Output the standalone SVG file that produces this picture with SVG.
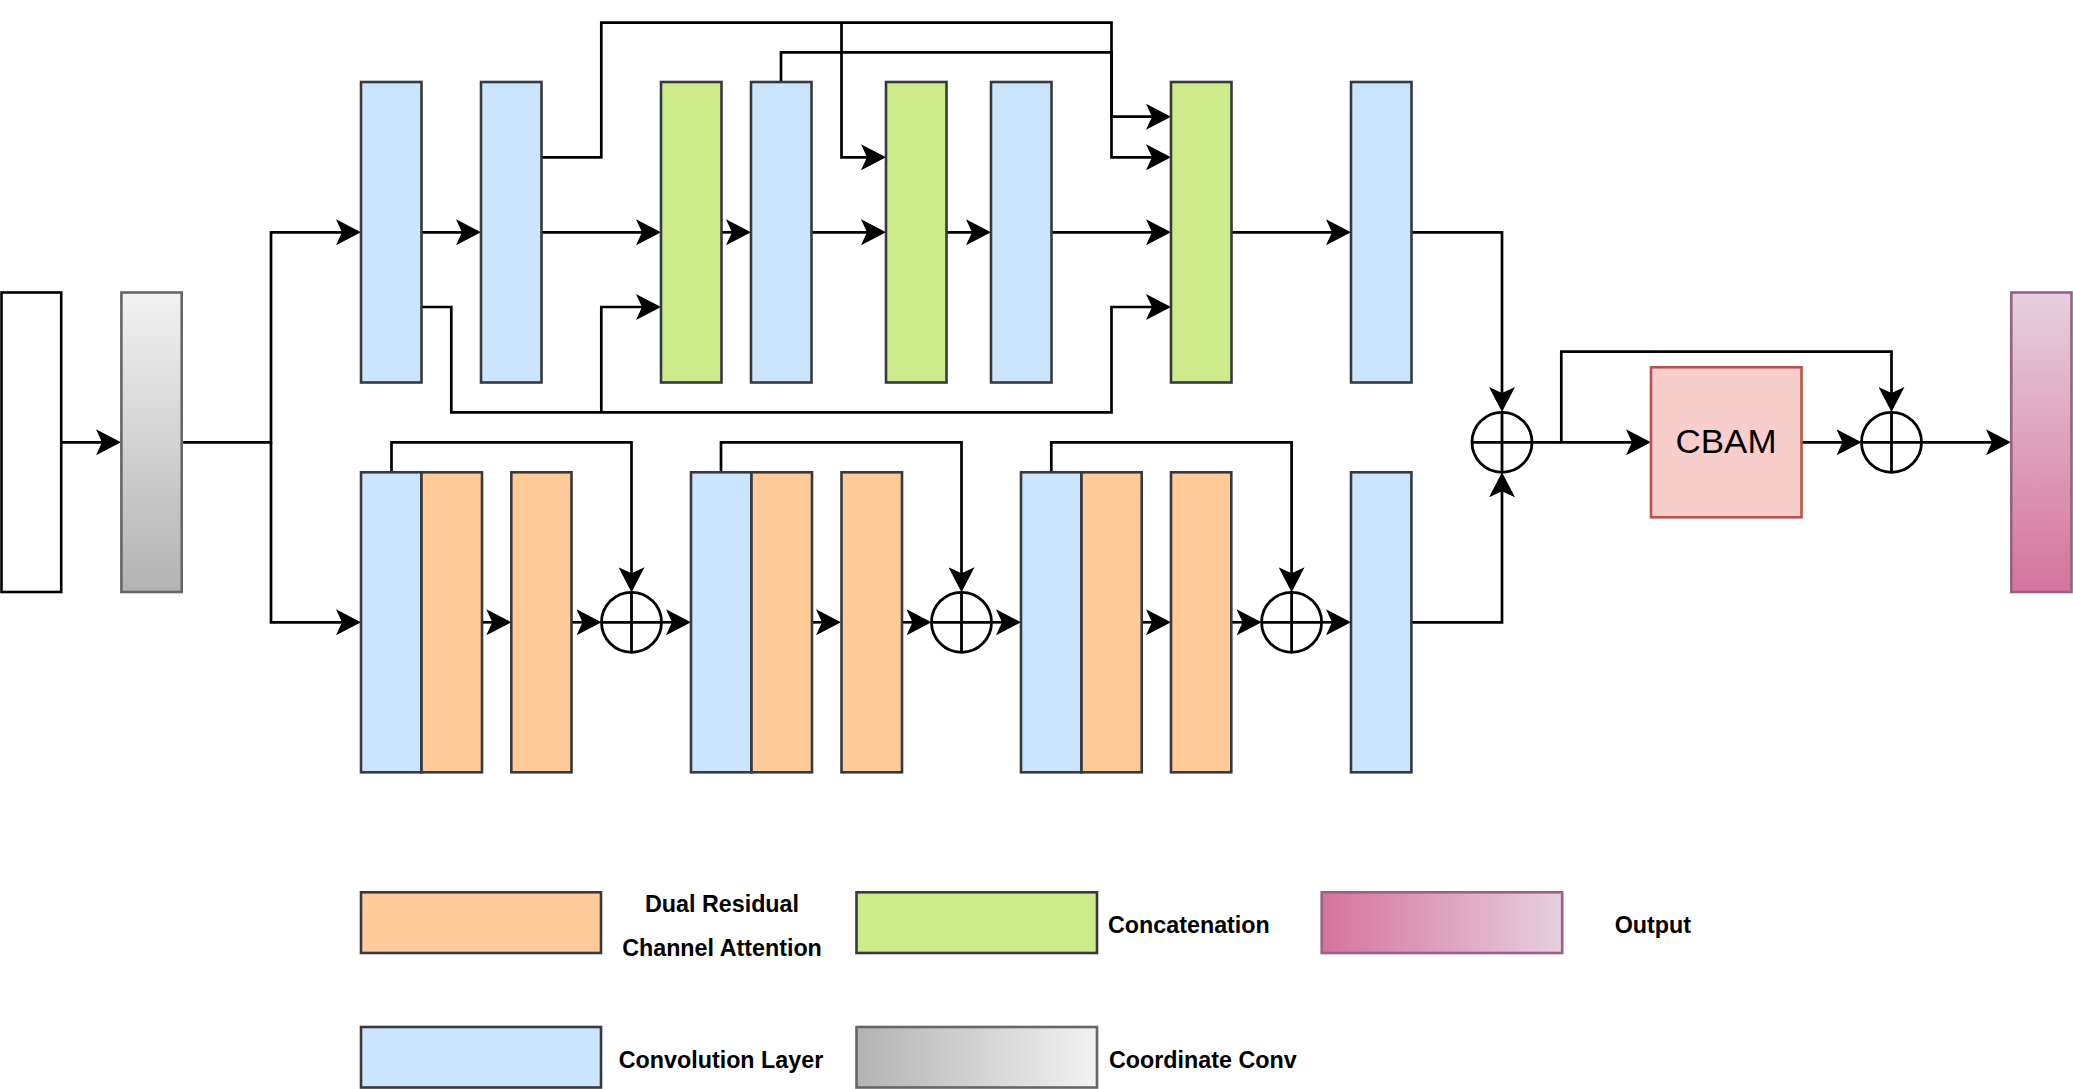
<svg xmlns="http://www.w3.org/2000/svg" width="2073" height="1089" viewBox="0 0 2073 1089">
<style>
.conv{fill:#cce5ff;stroke:#36393d;stroke-width:2.6}
.dra{fill:#ffcc99;stroke:#36393d;stroke-width:2.6}
.cat{fill:#cdeb8b;stroke:#36393d;stroke-width:2.6}
.plus{fill:#ffffff;stroke:#000000;stroke-width:2.8}
.cross{fill:none;stroke:#000000;stroke-width:2.8}
.edge{fill:none;stroke:#000000;stroke-width:2.7;stroke-linejoin:miter}
.arr{marker-end:url(#ah)}
.lg{font-family:"Liberation Sans",Arial,sans-serif;font-weight:bold;font-size:23.3px;fill:#000000}
</style>
<defs>
<marker id="ah" markerUnits="userSpaceOnUse" viewBox="0 0 25 26" refX="15" refY="13" markerWidth="25" markerHeight="26" orient="auto">
<path d="M0,0 L25,13 L0,26 L6,13 Z" fill="#000000"/>
</marker>
<linearGradient id="gGrayV" x1="0" y1="0" x2="0" y2="1"><stop offset="0" stop-color="#f2f2f2"/><stop offset="1" stop-color="#b3b3b3"/></linearGradient>
<linearGradient id="gPinkV" x1="0" y1="0" x2="0" y2="1"><stop offset="0" stop-color="#e6d0de"/><stop offset="1" stop-color="#d5739d"/></linearGradient>
<linearGradient id="gPinkH" x1="0" y1="0" x2="1" y2="0"><stop offset="0" stop-color="#d5739d"/><stop offset="1" stop-color="#e6d0de"/></linearGradient>
<linearGradient id="gGrayH" x1="0" y1="0" x2="1" y2="0"><stop offset="0" stop-color="#b3b3b3"/><stop offset="1" stop-color="#f2f2f2"/></linearGradient>
</defs>
<rect width="2073" height="1089" fill="#ffffff"/>

<g id="connectors">
<path class="edge arr" d="M61,442.3 H111"/>
<path class="edge arr" d="M181.7,442.3 H271 V232.3 H351"/>
<path class="edge arr" d="M271,442.3 V622.3 H351"/>
<path class="edge arr" d="M421.5,232.3 H471"/>
<path class="edge arr" d="M541.5,232.3 H651"/>
<path class="edge arr" d="M721.5,232.3 H741"/>
<path class="edge arr" d="M811.5,232.3 H876"/>
<path class="edge arr" d="M946.5,232.3 H981"/>
<path class="edge arr" d="M1051.5,232.3 H1161"/>
<path class="edge arr" d="M1231.5,232.3 H1341"/>
<path class="edge arr" d="M1411.5,232.3 H1502 V402"/>
<path class="edge arr" d="M541.5,157.3 H601.3 V22.7 H1111.5 V157.3 H1161"/>
<path class="edge arr" d="M841.5,22.7 V157.3 H876"/>
<path class="edge arr" d="M781,82 V52.3 H1111.5 V116.7 H1161"/>
<path class="edge arr" d="M421.5,307 H451.3 V412.3 H1111.5 V307 H1161"/>
<path class="edge arr" d="M601.3,412.3 V307 H651"/>
<path class="edge arr" d="M482,622.3 H501.3"/>
<path class="edge arr" d="M571.5,622.3 H591.5"/>
<path class="edge arr" d="M391.5,472 V442.3 H631.5 V582.3"/>
<path class="edge arr" d="M661.5,622.3 H681"/>
<path class="edge arr" d="M812,622.3 H831"/>
<path class="edge arr" d="M902,622.3 H921.5"/>
<path class="edge arr" d="M721,472 V442.3 H961.5 V582.3"/>
<path class="edge arr" d="M991.5,622.3 H1011"/>
<path class="edge arr" d="M1141.7,622.3 H1161"/>
<path class="edge arr" d="M1231.3,622.3 H1251.6"/>
<path class="edge arr" d="M1051.3,472 V442.3 H1291.6 V582.3"/>
<path class="edge arr" d="M1321.6,622.3 H1341"/>
<path class="edge arr" d="M1411.4,622.3 H1502 V482.3"/>
<path class="edge arr" d="M1532,442.3 H1641"/>
<path class="edge arr" d="M1561.3,442.3 V351.7 H1891.5 V402"/>
<path class="edge arr" d="M1801.7,442.3 H1851.5"/>
<path class="edge arr" d="M1921.5,442.3 H2001"/>
</g>

<g id="input"><rect x="1.5" y="292.5" width="59.7" height="299.5" fill="#ffffff" stroke="#000000" stroke-width="2.6"/></g>
<g id="coordconv"><rect x="121.4" y="292.5" width="60.3" height="299.5" fill="url(#gGrayV)" stroke="#666666" stroke-width="2.6"/></g>

<g id="top-conv1"><rect class="conv" x="361" y="82" width="60.5" height="300.5"/></g>
<g id="top-conv2"><rect class="conv" x="481" y="82" width="60.5" height="300.5"/></g>
<g id="top-cat1"><rect class="cat" x="661" y="82" width="60.5" height="300.5"/></g>
<g id="top-conv3"><rect class="conv" x="751" y="82" width="60.5" height="300.5"/></g>
<g id="top-cat2"><rect class="cat" x="886" y="82" width="60.5" height="300.5"/></g>
<g id="top-conv4"><rect class="conv" x="991" y="82" width="60.5" height="300.5"/></g>
<g id="top-cat3"><rect class="cat" x="1171" y="82" width="60.5" height="300.5"/></g>
<g id="top-conv5"><rect class="conv" x="1351" y="82" width="60.5" height="300.5"/></g>

<g id="bot-block1">
<rect class="conv" x="361" y="472.3" width="60.5" height="300"/>
<rect class="dra" x="421.5" y="472.3" width="60.5" height="300"/>
</g>
<g id="bot-dra1"><rect class="dra" x="511.3" y="472.3" width="60.2" height="300"/></g>
<g id="bot-add1"><circle class="plus" cx="631.5" cy="622.3" r="30"/><path class="cross" d="M601.5,622.3 H661.5 M631.5,592.3 V652.3"/></g>

<g id="bot-block2">
<rect class="conv" x="691" y="472.3" width="60.5" height="300"/>
<rect class="dra" x="751.5" y="472.3" width="60.5" height="300"/>
</g>
<g id="bot-dra2"><rect class="dra" x="841.5" y="472.3" width="60.5" height="300"/></g>
<g id="bot-add2"><circle class="plus" cx="961.5" cy="622.3" r="30"/><path class="cross" d="M931.5,622.3 H991.5 M961.5,592.3 V652.3"/></g>

<g id="bot-block3">
<rect class="conv" x="1021" y="472.3" width="60.5" height="300"/>
<rect class="dra" x="1081.5" y="472.3" width="60.2" height="300"/>
</g>
<g id="bot-dra3"><rect class="dra" x="1171" y="472.3" width="60.3" height="300"/></g>
<g id="bot-add3"><circle class="plus" cx="1291.6" cy="622.3" r="30"/><path class="cross" d="M1261.6,622.3 H1321.6 M1291.6,592.3 V652.3"/></g>

<g id="bot-conv"><rect class="conv" x="1351" y="472.3" width="60.4" height="300"/></g>

<g id="merge-add"><circle class="plus" cx="1502" cy="442.3" r="30"/><path class="cross" d="M1472,442.3 H1532 M1502,412.3 V472.3"/></g>
<g id="cbam">
<rect x="1651" y="367.3" width="150.5" height="150" fill="#f8cecc" stroke="#b85450" stroke-width="2.6"/>
<text x="1726" y="453" text-anchor="middle" font-family="'Liberation Sans',Arial,sans-serif" font-size="34" textLength="101" lengthAdjust="spacingAndGlyphs" fill="#000000">CBAM</text>
</g>
<g id="cbam-add"><circle class="plus" cx="1891.5" cy="442.3" r="30"/><path class="cross" d="M1861.5,442.3 H1921.5 M1891.5,412.3 V472.3"/></g>
<g id="output"><rect x="2011.3" y="292.5" width="60.2" height="299.5" fill="url(#gPinkV)" stroke="#996185" stroke-width="2.6"/></g>

<g id="legend-dra">
<rect class="dra" x="361" y="892.3" width="240" height="60.7"/>
<text class="lg" x="722" y="911.7" text-anchor="middle">Dual Residual</text>
<text class="lg" x="722" y="956" text-anchor="middle">Channel Attention</text>
</g>
<g id="legend-cat">
<rect class="cat" x="856.5" y="892.3" width="240.5" height="60.7"/>
<text class="lg" x="1108" y="933.3">Concatenation</text>
</g>
<g id="legend-out">
<rect x="1321.7" y="892.3" width="240.5" height="60.7" fill="url(#gPinkH)" stroke="#996185" stroke-width="2.6"/>
<text class="lg" x="1652.8" y="933.3" text-anchor="middle">Output</text>
</g>
<g id="legend-conv">
<rect class="conv" x="361" y="1027" width="240" height="60.5"/>
<text class="lg" x="721" y="1067.5" text-anchor="middle">Convolution Layer</text>
</g>
<g id="legend-coord">
<rect x="856.5" y="1027" width="240.5" height="60.5" fill="url(#gGrayH)" stroke="#666666" stroke-width="2.6"/>
<text class="lg" x="1109" y="1067.5">Coordinate Conv</text>
</g>
</svg>
